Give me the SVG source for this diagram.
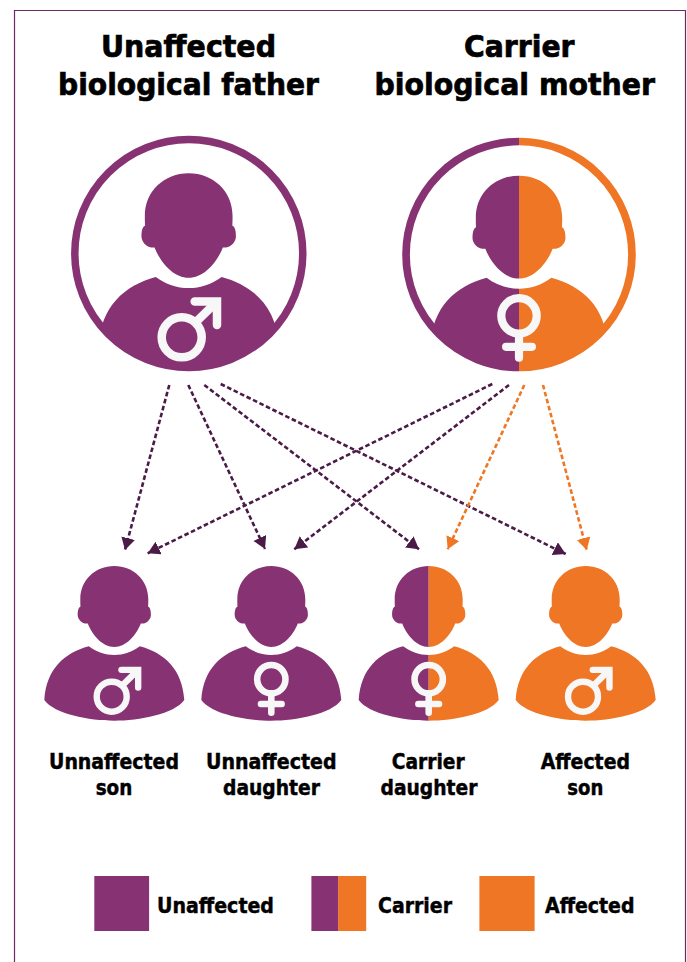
<svg xmlns="http://www.w3.org/2000/svg" width="687" height="962" viewBox="0 0 687 962">
<style>
.p{fill:#873373}.o{fill:#ee7624}
.sym{fill:none;stroke:#f7f7f7}
.t{font-family:"DejaVu Sans",sans-serif;font-weight:700;fill:#000;stroke:#000}
.title{font-size:30px;stroke-width:.7px}
.lab{font-size:20.5px;stroke-width:.45px}
.leg{font-size:21px;stroke-width:.45px}
.c{fill:none;stroke-width:2.6;stroke-dasharray:4.6 2.6}
.d{stroke:#4b1b48}.a{stroke:#ee7624}
</style>
<defs>
<path id="person" d="M0,0C19,0 34,14 34,33C34,36 34,38 33.8,40.5C36,41.5 36.6,45 36.6,49C36.6,53 33,57 29,57.5L26.5,57.5C22,69 12,81 0,81C-12,81 -22,69 -26.5,57.5L-29,57.5C-33,57 -36.6,53 -36.6,49C-36.6,45 -36,41.5 -33.8,40.5C-34,38 -34,36 -34,33C-34,14 -19,0 0,0ZM0,89C-9,89 -18,86 -25.5,80.3C-50,87 -68,103 -70,134C-60,148 -25,154.7 0,154.7C25,154.7 60,148 70,134C68,103 50,87 25.5,80.3C18,86 9,89 0,89Z"/>
<g id="male" class="sym" stroke-width="8.5">
<circle r="20"/>
<path d="M14.3,-15.3L35.3,-35.8" stroke-linecap="butt"/>
<path d="M13,-35.8H35.3V-12.3" stroke-linecap="round" stroke-linejoin="miter"/>
</g>
<g id="female" class="sym" stroke-width="8.2">
<circle r="17.7"/>
<path d="M0,21.5V41.9M-12.9,31H12.9" stroke-linecap="round"/>
</g>
<clipPath id="left"><rect x="-200" y="-100" width="200" height="400"/></clipPath>
<clipPath id="right"><rect x="0" y="-100" width="200" height="400"/></clipPath>
<clipPath id="fc"><circle cx="188.8" cy="252.9" r="117"/></clipPath>
<clipPath id="mc"><circle cx="519" cy="254.5" r="116"/></clipPath>
<marker id="ad" markerUnits="userSpaceOnUse" markerWidth="15" markerHeight="15" refX="12.2" refY="7" orient="auto"><path d="M0,0L12.2,7L0,14Z" fill="#4b1b48"/></marker>
<marker id="ao" markerUnits="userSpaceOnUse" markerWidth="15" markerHeight="15" refX="12.2" refY="7" orient="auto"><path d="M0,0L12.2,7L0,14Z" fill="#ee7624"/></marker>
</defs>
<rect width="687" height="962" fill="#fff"/>
<path d="M14.5,962V10.5H685.5V962" fill="none" stroke="#6b2a62" stroke-width="1.2"/>

<g id="title-father" class="t title">
<text x="101" y="57" textLength="175" lengthAdjust="spacingAndGlyphs">Unaffected</text>
<text x="58" y="94.5" textLength="261" lengthAdjust="spacingAndGlyphs">biological father</text>
</g>
<g id="title-mother" class="t title">
<text x="464" y="57" textLength="110.5" lengthAdjust="spacingAndGlyphs">Carrier</text>
<text x="374.5" y="94.5" textLength="280.5" lengthAdjust="spacingAndGlyphs">biological mother</text>
</g>

<g id="father">
<circle cx="188.8" cy="253.4" r="114" fill="none" stroke="#873373" stroke-width="7.5"/>
<g clip-path="url(#fc)"><use href="#person" class="p" transform="translate(188.7,173.3) scale(1.29)"/></g>
<use href="#male" transform="translate(181.7,337.3)"/>
</g>

<g id="mother">
<path d="M519,141.5A113,113 0 0 0 519,367.5" fill="none" stroke="#873373" stroke-width="7.7"/>
<path d="M519,141.5A113,113 0 0 1 519,367.5" fill="none" stroke="#ee7624" stroke-width="7.7"/>
<g clip-path="url(#mc)">
<g transform="translate(519,175.7) scale(1.27)">
<use href="#person" class="p" clip-path="url(#left)"/>
<use href="#person" class="o" clip-path="url(#right)"/>
</g>
</g>
<use href="#female" transform="translate(519,315.8)"/>
</g>

<g id="connectors">
<path class="c d" marker-end="url(#ad)" d="M169.3,385L125,550"/>
<path class="c d" marker-end="url(#ad)" d="M188.3,385L265,549"/>
<path class="c d" marker-end="url(#ad)" d="M204.3,385L419,549.3"/>
<path class="c d" marker-end="url(#ad)" d="M220.7,384L565.7,554"/>
<path class="c d" marker-end="url(#ad)" d="M492.3,384L147.7,553.3"/>
<path class="c d" marker-end="url(#ad)" d="M509,385L294.3,549.3"/>
<path class="c a" marker-end="url(#ao)" d="M524.3,385L447.7,549.3"/>
<path class="c a" marker-end="url(#ao)" d="M543,385L586.7,550"/>
</g>

<g id="son-unaffected">
<use href="#person" class="p" transform="translate(114.3,566)"/>
<use href="#male" transform="translate(111.7,696.7) scale(.75)"/>
<text class="t lab" x="49" y="768.5" textLength="130" lengthAdjust="spacingAndGlyphs">Unnaffected</text>
<text class="t lab" x="95.7" y="795.2" textLength="36.6" lengthAdjust="spacingAndGlyphs">son</text>
</g>
<g id="daughter-unaffected">
<use href="#person" class="p" transform="translate(271.3,566)"/>
<use href="#female" transform="translate(271.3,679.2) scale(.8)"/>
<text class="t lab" x="206" y="768.5" textLength="130.5" lengthAdjust="spacingAndGlyphs">Unnaffected</text>
<text class="t lab" x="223" y="795.2" textLength="97" lengthAdjust="spacingAndGlyphs">daughter</text>
</g>
<g id="daughter-carrier">
<g transform="translate(428.7,566)">
<use href="#person" class="p" clip-path="url(#left)"/>
<use href="#person" class="o" clip-path="url(#right)"/>
</g>
<use href="#female" transform="translate(428.7,679.2) scale(.8)"/>
<text class="t lab" x="391.7" y="768.5" textLength="73" lengthAdjust="spacingAndGlyphs">Carrier</text>
<text class="t lab" x="380.5" y="795.2" textLength="97" lengthAdjust="spacingAndGlyphs">daughter</text>
</g>
<g id="son-affected">
<use href="#person" class="o" transform="translate(585.7,566)"/>
<use href="#male" transform="translate(583,696.7) scale(.75)"/>
<text class="t lab" x="540.7" y="768.5" textLength="89.3" lengthAdjust="spacingAndGlyphs">Affected</text>
<text class="t lab" x="567.3" y="795.2" textLength="36" lengthAdjust="spacingAndGlyphs">son</text>
</g>

<g id="legend">
<rect class="p" x="94.3" y="876" width="54.8" height="55"/>
<text class="t leg" x="157" y="912.7" textLength="117" lengthAdjust="spacingAndGlyphs">Unaffected</text>
<rect class="p" x="311.4" y="876" width="27" height="55"/>
<rect class="o" x="338.2" y="876" width="28" height="55"/>
<text class="t leg" x="378" y="912.7" textLength="74" lengthAdjust="spacingAndGlyphs">Carrier</text>
<rect class="o" x="479.4" y="876" width="55.2" height="55"/>
<text class="t leg" x="545" y="912.7" textLength="89.5" lengthAdjust="spacingAndGlyphs">Affected</text>
</g>
</svg>
